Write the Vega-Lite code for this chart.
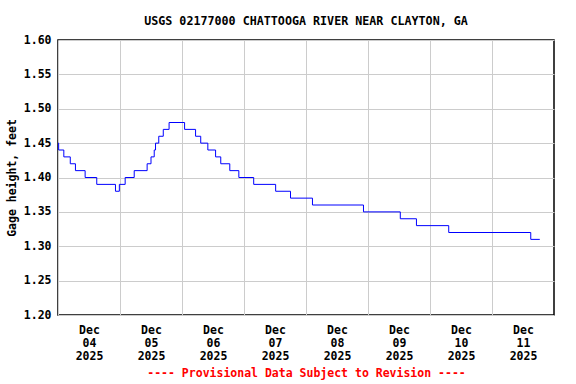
{
  "$schema": "https://vega.github.io/schema/vega-lite/v6.json",
  "width": 496,
  "height": 275,
  "autosize": {"type": "none"},
  "padding": {"left": 58, "top": 40, "right": 22, "bottom": 69},
  "background": "white",
  "title": {
    "text": "USGS 02177000 CHATTOOGA RIVER NEAR CLAYTON, GA",
    "font": "DejaVu Sans Mono",
    "fontSize": 11.7,
    "fontWeight": "bold",
    "color": "black",
    "anchor": "middle",
    "offset": 6
  },
  "data": {
    "values": [
      {"t": "2025-12-04T00:00:00", "v": 1.45},
      {"t": "2025-12-04T00:15:00", "v": 1.44},
      {"t": "2025-12-04T02:15:00", "v": 1.43},
      {"t": "2025-12-04T04:45:00", "v": 1.42},
      {"t": "2025-12-04T06:45:00", "v": 1.41},
      {"t": "2025-12-04T10:30:00", "v": 1.40},
      {"t": "2025-12-04T15:00:00", "v": 1.39},
      {"t": "2025-12-04T22:15:00", "v": 1.38},
      {"t": "2025-12-04T23:45:00", "v": 1.39},
      {"t": "2025-12-05T02:00:00", "v": 1.40},
      {"t": "2025-12-05T05:30:00", "v": 1.41},
      {"t": "2025-12-05T10:30:00", "v": 1.42},
      {"t": "2025-12-05T12:00:00", "v": 1.43},
      {"t": "2025-12-05T13:15:00", "v": 1.44},
      {"t": "2025-12-05T13:45:00", "v": 1.45},
      {"t": "2025-12-05T15:00:00", "v": 1.46},
      {"t": "2025-12-05T16:45:00", "v": 1.47},
      {"t": "2025-12-05T19:00:00", "v": 1.48},
      {"t": "2025-12-06T01:00:00", "v": 1.47},
      {"t": "2025-12-06T05:15:00", "v": 1.46},
      {"t": "2025-12-06T07:15:00", "v": 1.45},
      {"t": "2025-12-06T10:00:00", "v": 1.44},
      {"t": "2025-12-06T13:00:00", "v": 1.43},
      {"t": "2025-12-06T15:00:00", "v": 1.42},
      {"t": "2025-12-06T18:30:00", "v": 1.41},
      {"t": "2025-12-06T22:00:00", "v": 1.40},
      {"t": "2025-12-07T03:45:00", "v": 1.39},
      {"t": "2025-12-07T12:15:00", "v": 1.38},
      {"t": "2025-12-07T18:00:00", "v": 1.37},
      {"t": "2025-12-08T02:30:00", "v": 1.36},
      {"t": "2025-12-08T22:15:00", "v": 1.35},
      {"t": "2025-12-09T12:30:00", "v": 1.34},
      {"t": "2025-12-09T18:45:00", "v": 1.33},
      {"t": "2025-12-10T07:15:00", "v": 1.32},
      {"t": "2025-12-11T15:00:00", "v": 1.31},
      {"t": "2025-12-11T18:30:00", "v": 1.31}
    ]
  },
  "mark": {"type": "line", "interpolate": "step-after", "color": "#0000ff", "strokeWidth": 1},
  "encoding": {
    "x": {
      "field": "t",
      "type": "temporal",
      "scale": {
        "domain": [
          {"year": 2025, "month": 12, "date": 4},
          {"year": 2025, "month": 12, "date": 12}
        ]
      },
      "axis": {
        "values": [
          {"year": 2025, "month": 12, "date": 4},
          {"year": 2025, "month": 12, "date": 5},
          {"year": 2025, "month": 12, "date": 6},
          {"year": 2025, "month": 12, "date": 7},
          {"year": 2025, "month": 12, "date": 8},
          {"year": 2025, "month": 12, "date": 9},
          {"year": 2025, "month": 12, "date": 10},
          {"year": 2025, "month": 12, "date": 11}
        ],
        "labelExpr": "[timeFormat(datum.value, '%b'), timeFormat(datum.value, '%d'), timeFormat(datum.value, '%Y')]",
        "labelOffset": 31,
        "labelPadding": 9,
        "labelLineHeight": 13,
        "labelOverlap": false,
        "labelFlush": false,
        "labelBound": false,
        "title": "---- Provisional Data Subject to Revision ----",
        "titleColor": "#ff0000",
        "titlePadding": 6
      }
    },
    "y": {
      "field": "v",
      "type": "quantitative",
      "scale": {"domain": [1.2, 1.6], "nice": false, "zero": false},
      "axis": {
        "values": [1.2, 1.25, 1.3, 1.35, 1.4, 1.45, 1.5, 1.55, 1.6],
        "format": ".2f",
        "labelPadding": 7,
        "title": "Gage height, feet",
        "titlePadding": 6
      }
    }
  },
  "config": {
    "view": {"stroke": "black", "strokeWidth": 1.5},
    "axis": {
      "grid": true,
      "gridColor": "#cccccc",
      "gridWidth": 1,
      "domain": false,
      "ticks": false,
      "labelFont": "DejaVu Sans Mono",
      "labelFontSize": 11.5,
      "labelFontWeight": "bold",
      "labelColor": "black",
      "titleFont": "DejaVu Sans Mono",
      "titleFontSize": 11.5,
      "titleFontWeight": "bold",
      "titleColor": "black"
    }
  }
}
